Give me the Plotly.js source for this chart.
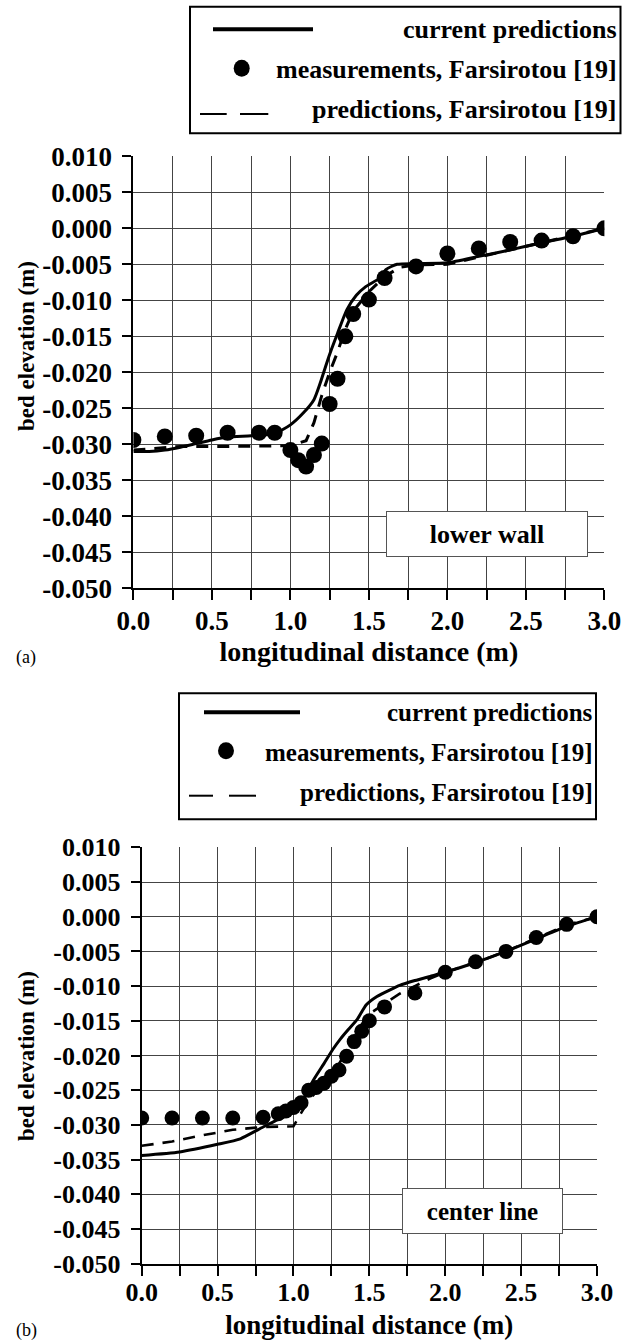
<!DOCTYPE html>
<html>
<head>
<meta charset="utf-8">
<script src="https://cdn.plot.ly/plotly-3.0.1.min.js"></script>
<style>
  html, body { margin: 0; padding: 0; background: #ffffff; }
  #chart { width: 623px; height: 1343px; }
</style>
</head>
<body>
<div id="chart"></div>
<script>
// ---------- (a) lower wall ----------
const wallMeasX = [0, 0.2, 0.4, 0.6, 0.8, 0.9, 1.0, 1.05, 1.1, 1.15, 1.2, 1.25, 1.3, 1.35, 1.4, 1.5, 1.6, 1.8, 2.0, 2.2, 2.4, 2.6, 2.8, 3.0];
const wallMeasY = [-0.0294, -0.0289, -0.0288, -0.0284, -0.0284, -0.0284, -0.0308, -0.0322, -0.0331, -0.0315, -0.0299, -0.0244, -0.0209, -0.0150, -0.0119, -0.0099, -0.0069, -0.0053, -0.0035, -0.0028, -0.0019, -0.0017, -0.0011, 0.0000];

const wallCurrentX = [0, 0.1, 0.2, 0.3, 0.4, 0.5, 0.6, 0.75, 0.9, 1.0, 1.08, 1.15, 1.19, 1.23, 1.26, 1.3, 1.36, 1.42, 1.48, 1.57, 1.61, 1.68, 1.8, 2.0, 2.2, 2.4, 2.6, 2.8, 3.0];
const wallCurrentY = [-0.0310, -0.0310, -0.0308, -0.0304, -0.0299, -0.0294, -0.0290, -0.0288, -0.0285, -0.0273, -0.0257, -0.0238, -0.0215, -0.0188, -0.0169, -0.0146, -0.0113, -0.0093, -0.0081, -0.0069, -0.0057, -0.0050, -0.0049, -0.0048, -0.0039, -0.0030, -0.0020, -0.0011, 0.0000];

const wallFarsX = [0, 0.2, 0.3, 0.6, 0.9, 1.0, 1.1, 1.15, 1.2, 1.25, 1.3, 1.35, 1.4, 1.5, 1.6, 1.7, 1.8, 2.0, 2.2, 2.4, 2.6, 2.8, 3.0];
const wallFarsY = [-0.0308, -0.0305, -0.0303, -0.0303, -0.0303, -0.0302, -0.0295, -0.0270, -0.0232, -0.0200, -0.0172, -0.0140, -0.0115, -0.0088, -0.0067, -0.0054, -0.0051, -0.0050, -0.0040, -0.0030, -0.0020, -0.0011, 0.0000];

// ---------- (b) center line ----------
const lineMeasX = [0, 0.2, 0.4, 0.6, 0.8, 0.9, 0.95, 1.0, 1.05, 1.1, 1.15, 1.2, 1.25, 1.3, 1.35, 1.4, 1.45, 1.5, 1.6, 1.8, 2.0, 2.2, 2.4, 2.6, 2.8, 3.0];
const lineMeasY = [-0.0290, -0.0290, -0.0290, -0.0290, -0.0289, -0.0284, -0.0280, -0.0275, -0.0268, -0.0250, -0.0246, -0.0240, -0.0230, -0.0221, -0.0201, -0.0180, -0.0165, -0.0150, -0.0130, -0.0110, -0.0080, -0.0065, -0.0050, -0.0030, -0.0011, 0.0000];

const lineCurrentX = [0, 0.25, 0.5, 0.65, 0.8, 0.9, 1.0, 1.05, 1.13, 1.2, 1.26, 1.31, 1.36, 1.42, 1.48, 1.55, 1.64, 1.7, 1.8, 1.9, 2.0, 2.2, 2.4, 2.6, 2.8, 3.0];
const lineCurrentY = [-0.0344, -0.0339, -0.0328, -0.0320, -0.0303, -0.0292, -0.0282, -0.0270, -0.0236, -0.0212, -0.0191, -0.0176, -0.0163, -0.0148, -0.0127, -0.0115, -0.0105, -0.0099, -0.0092, -0.0086, -0.0080, -0.0066, -0.0050, -0.0032, -0.0014, 0.0000];

const lineFarsX = [0, 0.2, 0.4, 0.6, 0.8, 1.0, 1.05, 1.1, 1.2, 1.3, 1.4, 1.45, 1.5, 1.6, 1.7, 1.8, 1.9, 2.0, 2.2, 2.4, 2.6, 2.8, 3.0];
const lineFarsY = [-0.0330, -0.0324, -0.0315, -0.0307, -0.0303, -0.0302, -0.0283, -0.0265, -0.0240, -0.0212, -0.0175, -0.0155, -0.0140, -0.0125, -0.0111, -0.0100, -0.0089, -0.0080, -0.0066, -0.0050, -0.0031, -0.0012, 0.0000];

// ---------- axis ticks and labels ----------
const xTickVals = [0, 0.25, 0.5, 0.75, 1.0, 1.25, 1.5, 1.75, 2.0, 2.25, 2.5, 2.75, 3.0];
const xTickText = ['0.0', '', '0.5', '', '1.0', '', '1.5', '', '2.0', '', '2.5', '', '3.0'];
const yTickVals = [0.010, 0.005, 0.000, -0.005, -0.010, -0.015, -0.020, -0.025, -0.030, -0.035, -0.040, -0.045, -0.050];
const yTickText = ['0.010', '0.005', '0.000', '-0.005', '-0.010', '-0.015', '-0.020', '-0.025', '-0.030', '-0.035', '-0.040', '-0.045', '-0.050'];

const seriesNames = ['current predictions', 'measurements, Farsirotou [19]', 'predictions, Farsirotou [19]'];
const panelLabels = ['lower wall', 'center line'];
const panelTags = ['(a)', '(b)'];
const xTitle = 'longitudinal distance (m)';
const yTitle = 'bed elevation (m)';

// ---------- page geometry helpers (pixels -> paper) ----------
const W = 623, H = 1343;
const PX = v => v / W;
const PY = v => 1 - v / H;
const SERIF = 'Liberation Serif, Times New Roman, Times, serif';

function panelTraces(xa, ya, cX, cY, fX, fY, mX, mY, msize, dashW) {
  return [
    { x: fX, y: fY, xaxis: xa, yaxis: ya, type: 'scatter', mode: 'lines', name: seriesNames[2],
      line: { color: '#000', width: dashW, dash: '12px,9px' }, showlegend: false, hoverinfo: 'skip' },
    { x: cX, y: cY, xaxis: xa, yaxis: ya, type: 'scatter', mode: 'lines', name: seriesNames[0],
      line: { color: '#000', width: 3, shape: 'spline', smoothing: 0.6 }, showlegend: false, hoverinfo: 'skip' },
    { x: mX, y: mY, xaxis: xa, yaxis: ya, type: 'scatter', mode: 'markers', name: seriesNames[1],
      marker: { color: '#000', size: msize, symbol: 'circle' }, showlegend: false, hoverinfo: 'skip' }
  ];
}

const traces = [].concat(
  panelTraces('x', 'y', wallCurrentX, wallCurrentY, wallFarsX, wallFarsY, wallMeasX, wallMeasY, 16, 3),
  panelTraces('x2', 'y2', lineCurrentX, lineCurrentY, lineFarsX, lineFarsY, lineMeasX, lineMeasY, 15, 2.6)
);

function xAxis(domain, anchor, fs, tfs, labelOff, standoff) {
  return {
    domain: domain, anchor: anchor, range: [0, 3],
    tickmode: 'array', tickvals: xTickVals, ticktext: xTickText,
    ticks: 'outside', ticklen: 10, tickwidth: 2, tickcolor: '#000',
    showline: true, linecolor: '#000', linewidth: 2,
    showgrid: true, gridcolor: '#444', gridwidth: 1, zeroline: false,
    tickfont: { family: SERIF, size: fs, color: '#000', weight: 'bold' },
    ticklabelstandoff: labelOff,
    title: { text: xTitle, font: { family: SERIF, size: tfs, color: '#000', weight: 'bold' }, standoff: standoff },
    fixedrange: true
  };
}
function yAxis(domain, anchor, fs) {
  return {
    domain: domain, anchor: anchor, range: [-0.05, 0.01],
    tickmode: 'array', tickvals: yTickVals, ticktext: yTickText,
    ticks: 'outside', ticklen: 9, tickwidth: 2, tickcolor: '#000',
    showline: true, linecolor: '#000', linewidth: 2,
    showgrid: true, gridcolor: '#444', gridwidth: 1, zeroline: false,
    tickfont: { family: SERIF, size: fs, color: '#000', weight: 'bold' },
    ticklabelstandoff: 5,
    fixedrange: true
  };
}

// legend block drawn as a boxed key
function legendBlock(box, rows, fs) {
  const shapes = [
    { type: 'rect', xref: 'paper', yref: 'paper', x0: PX(box.x0), x1: PX(box.x1), y0: PY(box.y1), y1: PY(box.y0),
      line: { color: '#000', width: 2 }, fillcolor: '#fff', layer: 'above' },
    { type: 'line', xref: 'paper', yref: 'paper', x0: PX(rows.solid[0]), x1: PX(rows.solid[1]), y0: PY(rows.solidY), y1: PY(rows.solidY),
      line: { color: '#000', width: 4 }, layer: 'above' },
    { type: 'circle', xref: 'paper', yref: 'paper', xsizemode: 'pixel', ysizemode: 'pixel',
      xanchor: PX(rows.dot[0]), yanchor: PY(rows.dot[1]), x0: -8, x1: 8, y0: -8.5, y1: 8.5,
      line: { color: '#000', width: 0 }, fillcolor: '#000', layer: 'above' },
    { type: 'line', xref: 'paper', yref: 'paper', x0: PX(rows.dash1[0]), x1: PX(rows.dash1[1]), y0: PY(rows.dashY), y1: PY(rows.dashY),
      line: { color: '#000', width: 2 }, layer: 'above' },
    { type: 'line', xref: 'paper', yref: 'paper', x0: PX(rows.dash2[0]), x1: PX(rows.dash2[1]), y0: PY(rows.dashY), y1: PY(rows.dashY),
      line: { color: '#000', width: 2 }, layer: 'above' }
  ];
  const anns = rows.textY.map((ty, i) => ({
    xref: 'paper', yref: 'paper', x: PX(rows.textRight), y: PY(ty), xanchor: 'right', yanchor: 'middle',
    text: seriesNames[i], showarrow: false,
    font: { family: SERIF, size: fs, color: '#000', weight: 'bold' }
  }));
  return { shapes, anns };
}

const legA = legendBlock({ x0: 190, x1: 620.5, y0: 6.7, y1: 133.3 },
  { solid: [213, 313], solidY: 29.3, dot: [241.7, 68.3], dash1: [200, 226.7], dash2: [240, 268.3], dashY: 114,
    textY: [30, 70, 110], textRight: 619 }, 26);
const legB = legendBlock({ x0: 179, x1: 596, y0: 693.3, y1: 819.3 },
  { solid: [204, 300], solidY: 712.3, dot: [226, 750.7], dash1: [189, 213], dash2: [229, 256], dashY: 795.7,
    textY: [712, 752, 792], textRight: 595 }, 25);

const annotations = [].concat(legA.anns, legB.anns, [
  // panel labels inside the plot
  { xref: 'x', yref: 'y', x: 2.254, y: -0.0424, xanchor: 'center', yanchor: 'middle', text: panelLabels[0],
    showarrow: false, width: 200, height: 44, borderpad: 0, bgcolor: '#fff', bordercolor: '#555', borderwidth: 1,
    font: { family: SERIF, size: 26, color: '#000', weight: 'bold' } },
  { xref: 'x2', yref: 'y2', x: 2.247, y: -0.04236, xanchor: 'center', yanchor: 'middle', text: panelLabels[1],
    showarrow: false, width: 159, height: 44, borderpad: 0, bgcolor: '#fff', bordercolor: '#555', borderwidth: 1,
    font: { family: SERIF, size: 25, color: '#000', weight: 'bold' } },
  // y axis titles
  { xref: 'paper', yref: 'paper', x: PX(26), y: PY(346), xanchor: 'center', yanchor: 'middle', textangle: -90,
    text: yTitle, showarrow: false, font: { family: SERIF, size: 23, color: '#000', weight: 'bold' } },
  { xref: 'paper', yref: 'paper', x: PX(26), y: PY(1056), xanchor: 'center', yanchor: 'middle', textangle: -90,
    text: yTitle, showarrow: false, font: { family: SERIF, size: 23, color: '#000', weight: 'bold' } },
  // panel tags
  { xref: 'paper', yref: 'paper', x: PX(26), y: PY(657), xanchor: 'center', yanchor: 'middle',
    text: panelTags[0], showarrow: false, font: { family: SERIF, size: 18, color: '#000' } },
  { xref: 'paper', yref: 'paper', x: PX(27), y: PY(1330), xanchor: 'center', yanchor: 'middle',
    text: panelTags[1], showarrow: false, font: { family: SERIF, size: 18, color: '#000' } }
]);

const layout = {
  width: W, height: H,
  margin: { l: 0, r: 0, t: 0, b: 0, pad: 0 },
  paper_bgcolor: '#fff', plot_bgcolor: '#fff',
  showlegend: false,
  font: { family: SERIF, color: '#000' },
  xaxis: xAxis([PX(133.4), PX(604.4)], 'y', 27, 28, -3, 5),
  yaxis: yAxis([PY(588.3), PY(156.3)], 'x', 27),
  xaxis2: xAxis([PX(141.7), PX(597)], 'y2', 26, 27, -6, 9),
  yaxis2: yAxis([PY(1263.7), PY(847.3)], 'x2', 26),
  shapes: [].concat(legA.shapes, legB.shapes),
  annotations: annotations
};

Plotly.newPlot('chart', traces, layout, { staticPlot: true, displayModeBar: false });
</script>
</body>
</html>
